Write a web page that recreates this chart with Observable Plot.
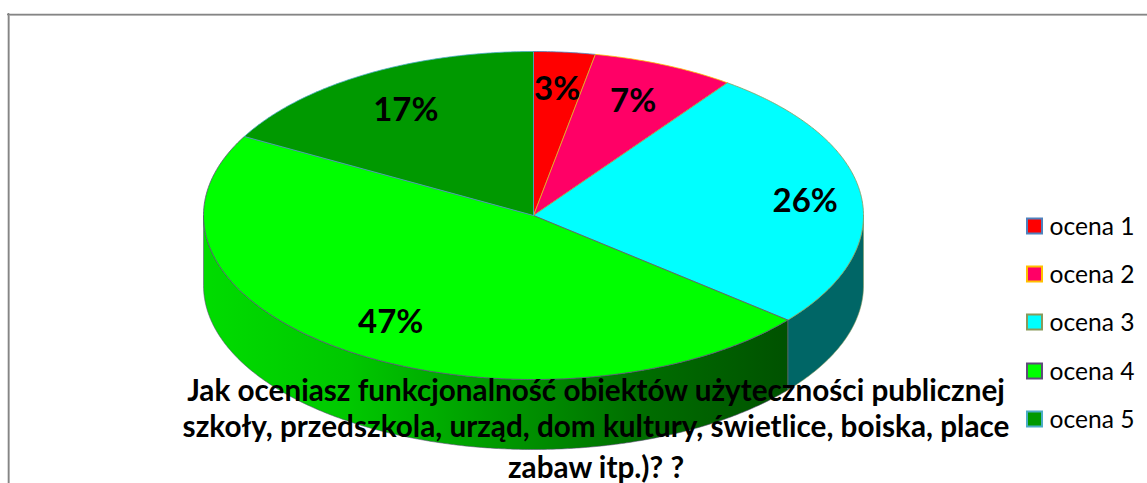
<!DOCTYPE html>
<html>
<head>
<meta charset="utf-8">
<style>html,body{margin:0;padding:0;background:#fff;overflow:hidden}svg{display:block}</style>
<script src="https://cdn.jsdelivr.net/npm/d3@7"></script>
<script src="https://cdn.jsdelivr.net/npm/@observablehq/plot@0.6"></script>
</head>
<body>
<script>
const categories = ["ocena 1", "ocena 2", "ocena 3", "ocena 4", "ocena 5"];
const values = [3, 7, 26, 47, 17];
const fills = ["#ff0000", "#ff0066", "#00ffff", "#00ff00", "#009900"];
const borders = ["#4f81bd", "#ffc000", "#8a9a5b", "#604a7b", "#4bacc6"];
const titleLines = [
  "Jak oceniasz funkcjonalność obiektów użyteczności publicznej",
  "szkoły, przedszkola, urząd, dom kultury, świetlice, boiska, place",
  "zabaw itp.)? ?"
];
const labelRadius = [0.76, 0.76, 0.83, 0.77, 0.76];
const labelDy = [-2, 0, 3, 2, 2];

// layout
const W = 1147, H = 483;
const cx = 533, cy = 215, rx = 330, ry = 164, depth = 70;
const rad = d => d * Math.PI / 180;
const px = (r, deg) => cx + r * rx * Math.sin(rad(deg));
const py = (r, deg, dz = 0) => cy - r * ry * Math.cos(rad(deg)) + dz;
const total = d3.sum(values);
let acc = 0;
const slices = values.map((v, i) => {
  const a0 = acc / total * 360; acc += v; const a1 = acc / total * 360;
  return {i, a0, a1, name: categories[i], value: v};
});
const arc = (a0, a1, dz = 0) => {
  const n = Math.max(2, Math.ceil((a1 - a0) * 2));
  return d3.range(n + 1).map(k => {
    const a = a0 + (a1 - a0) * k / n;
    return {x: px(1, a), y: py(1, a, dz)};
  });
};
const wedge = s => [{x: cx, y: cy}, ...arc(s.a0, s.a1), {x: cx, y: cy}];
const wall = (a0, a1) => {
  const top = arc(a0, a1), bot = arc(a0, a1, depth).reverse();
  return [...top, ...bot, top[0]];
};
const clampWall = s => {
  const a0 = Math.max(s.a0, 90), a1 = Math.min(s.a1, 270);
  return a1 > a0 ? wall(a0, a1) : null;
};

const gradient = () => {
  const defs = d3.create("svg:defs");
  const g = defs.append("linearGradient").attr("id", "wall4")
    .attr("gradientUnits", "userSpaceOnUse")
    .attr("x1", px(1, 270)).attr("x2", px(1, 130)).attr("y1", 0).attr("y2", 0);
  [[0, "#00dc00"], [0.25, "#00c800"], [0.5, "#009a00"], [0.75, "#006e00"], [1, "#005200"]]
    .forEach(([o, c]) => g.append("stop").attr("offset", o).attr("stop-color", c));
  return defs.node();
};
const wallFill = {2: "#006666", 3: "url(#wall4)"};

const legendRows = [226, 274, 322, 371, 419];
const legend = categories.map((name, i) => ({name, i, y: legendRows[i]}));
const titleRows = [390.5, 427, 467.5].map((y, i) => ({y, text: titleLines[i]}));
const labels = slices.map(s => {
  const m = (s.a0 + s.a1) / 2;
  return {x: px(labelRadius[s.i], m), y: py(labelRadius[s.i], m) + labelDy[s.i], text: s.value + "%"};
});

const chart = Plot.plot({
  width: W, height: H,
  margin: 0,
  x: {domain: [0, W], range: [0, W], axis: null},
  y: {domain: [0, H], range: [0, H], axis: null},
  style: {background: "#fff", fontFamily: "Lato, sans-serif"},
  marks: [
    gradient,
    Plot.ruleY([15], {x1: 8, x2: W, stroke: "#c8c8c8", strokeWidth: 1}),
    Plot.ruleX([9], {y1: 15, y2: H, stroke: "#c8c8c8", strokeWidth: 1}),
    Plot.ruleY([14], {x1: 7, x2: W, stroke: "#858585", strokeWidth: 1.6}),
    Plot.ruleX([8], {y1: 13, y2: H, stroke: "#858585", strokeWidth: 1.6}),
    ...slices.filter(s => clampWall(s)).map(s =>
      Plot.line(clampWall(s), {x: "x", y: "y", fill: wallFill[s.i], stroke: borders[s.i], strokeWidth: 0.7, strokeOpacity: 0.8})),
    ...slices.map(s =>
      Plot.line(wedge(s), {x: "x", y: "y", fill: fills[s.i], stroke: borders[s.i], strokeWidth: 0.8})),
    Plot.text(labels, {x: "x", y: "y", text: "text", fontSize: 33, fontWeight: "bold", fill: "#000"}),
    Plot.text(titleRows, {x: () => 595.5, y: "y", text: "text", fontSize: 29.7, fontWeight: "bold", fill: "#000"}),
    Plot.rect(legend, {
      x1: () => 1027, x2: () => 1042,
      y1: d => d.y - 7.5, y2: d => d.y + 7.5,
      fill: d => fills[d.i], stroke: d => borders[d.i], strokeWidth: 2
    }),
    Plot.text(legend, {x: () => 1049, y: d => d.y + 1, text: "name", textAnchor: "start", fontSize: 24.6, fill: "#000"})
  ]
});
document.body.appendChild(chart);
</script>
</body>
</html>
